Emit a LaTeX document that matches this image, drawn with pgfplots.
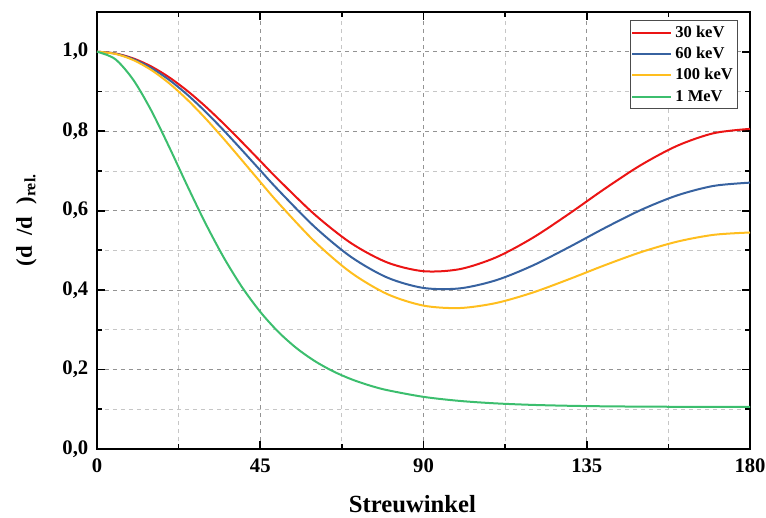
\documentclass[border=0pt]{standalone}
\usepackage{fontspec}
\setmainfont{Liberation Serif}
\usepackage{pgfplots}
\pgfplotsset{compat=1.18}
\definecolor{cRed}{RGB}{235,20,20}
\definecolor{cBlue}{RGB}{55,98,160}
\definecolor{cYel}{RGB}{255,190,30}
\definecolor{cGrn}{RGB}{60,190,110}
\begin{document}
\begin{tikzpicture}
\begin{axis}[
  scale only axis, width=489.75pt, height=327.75pt,
  xmin=0, xmax=180, ymin=0, ymax=1.1,
  xtick={0,45,90,135,180}, minor xtick={22.5,67.5,112.5,157.5},
  ytick={0,0.2,0.4,0.6,0.8,1.0}, minor ytick={0.1,0.3,0.5,0.7,0.9},
  tick align=inside, major tick length=6pt, minor tick length=3.5pt,
  axis line style={line width=1.5pt},
  every tick/.style={black, line width=1.3pt},
  grid=both,
  major grid style={dash pattern=on 3pt off 3pt, gray!85, line width=0.6pt},
  minor grid style={dash pattern=on 3pt off 3pt, gray!45, line width=0.6pt},
  /pgf/number format/assume math mode=true,
  tick label style={font=\fontsize{15.5}{17}\selectfont\bfseries},
  xticklabel style={yshift=-4pt},
  yticklabel style={xshift=-3pt, /pgf/number format/fixed, /pgf/number format/fixed zerofill,
     /pgf/number format/precision=1, /pgf/number format/use comma},
  xlabel={Streuwinkel},
  xlabel style={font=\fontsize{18.5}{20}\selectfont\bfseries, at={(axis description cs:0.483,-0.126)}, anchor=center},
  ylabel={(d\hspace{0.45em}/d\hspace{0.55em})\textsubscript{rel.}},
  ylabel style={font=\fontsize{17}{19}\selectfont\bfseries, at={(axis description cs:-0.108,0.524)}, anchor=center},
  legend style={at={(1,1)}, anchor=north east, xshift=-9pt, yshift=-6pt,
     font=\fontsize{12.4}{14}\selectfont\bfseries, draw=gray!60!black, line width=0.8pt,
     inner xsep=1pt, inner ysep=1pt,
     nodes={text height=9pt, text depth=2pt, inner sep=2.5pt}},
  legend cell align=left,
  legend image code/.code={\draw[#1, line width=1.5pt] (0pt,0pt) -- (29pt,0pt);},
]
\addplot[cRed, line width=1.5pt, smooth] coordinates {
(0,1.0) (5,0.99576) (10,0.98317) (15,0.96265) (20,0.93488) (25,0.90078) (30,0.86143)
(35,0.81810) (40,0.77215) (45,0.72500) (50,0.67807) (60,0.59026)
(70,0.51838) (80,0.46953) (90,0.44754) (100,0.45275) (110,0.48236) (120,0.53093)
(130,0.59128) (140,0.65534) (150,0.71513) (160,0.76353) (170,0.79495) (180,0.80582)};
\addlegendentry{30 keV}
\addplot[cBlue, line width=1.5pt, smooth] coordinates {
(0,1.0) (5,0.99531) (10,0.98142) (15,0.95883) (20,0.92834) (25,0.89104) (30,0.84823)
(35,0.80133) (40,0.75190) (45,0.70149) (50,0.65163) (60,0.55906)
(70,0.48364) (80,0.43156) (90,0.40538) (100,0.40431) (110,0.42479) (120,0.46136)
(130,0.50751) (140,0.55650) (150,0.60199) (160,0.63861) (170,0.66229) (180,0.67046)};
\addlegendentry{60 keV}
\addplot[cYel, line width=1.5pt, smooth] coordinates {
(0,1.0) (5,0.99472) (10,0.97910) (15,0.95377) (20,0.91974) (25,0.87836) (30,0.83118)
(35,0.77993) (40,0.72638) (45,0.67228) (50,0.61927) (60,0.52217)
(70,0.44411) (80,0.39000) (90,0.36093) (100,0.35482) (110,0.36746) (120,0.39343)
(130,0.42701) (140,0.46270) (150,0.49570) (160,0.52212) (170,0.53912) (180,0.54497)};
\addlegendentry{100 keV}
\addplot[cGrn, line width=1.5pt, smooth] coordinates {
(0,1.0) (5,0.98153) (10,0.92929) (15,0.85129) (20,0.75821) (25,0.66040) (30,0.56635)
(35,0.48103) (40,0.40714) (45,0.34524) (50,0.29459) (55,0.25385) (60,0.22148)
(65,0.19597) (70,0.17597) (75,0.16033) (80,0.14814) (90,0.13125) (100,0.12100) (110,0.11479) (120,0.11104)
(130,0.10879) (140,0.10745) (150,0.10668) (160,0.10625) (170,0.10603) (180,0.10597)};
\addlegendentry{1 MeV}
\end{axis}
\pgfresetboundingbox
\path (current axis.south west) ++(-72.75pt,-51pt) rectangle ++(574.5pt,387.75pt);
\end{tikzpicture}
\end{document}
